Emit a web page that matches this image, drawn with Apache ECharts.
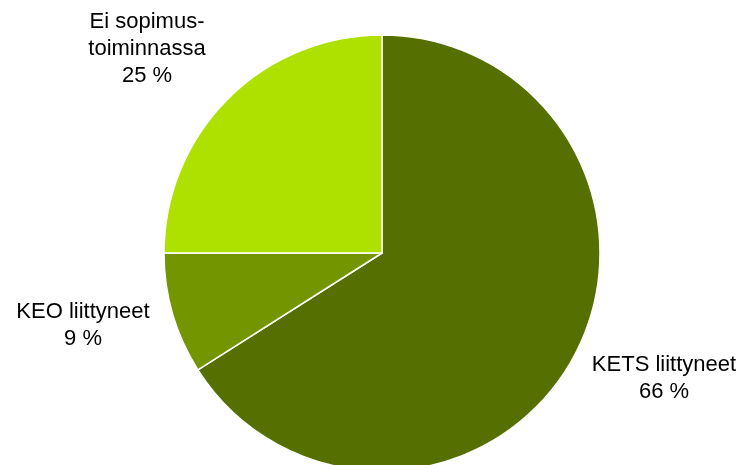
<!DOCTYPE html>
<html><head><meta charset="utf-8">
<script src="https://cdn.jsdelivr.net/npm/echarts@6/dist/echarts.min.js"></script>
<style>html,body{margin:0;padding:0;background:#fff;}#c{width:748px;height:465px;}</style>
</head><body><div id="c"></div>
<script>
var categories = ['KETS liittyneet', 'KEO liittyneet', 'Ei sopimus-\ntoiminnassa'];
var values = [66, 9, 25];
var colors = ['#557000', '#739600', '#aee000'];
var labelPos = [[664, 378], [83, 325], [147, 49]];

var chart = echarts.init(document.getElementById('c'), null, {renderer: 'canvas'});
chart.setOption({
  animation: false,
  backgroundColor: '#ffffff',
  series: [{
    type: 'pie',
    center: [382, 253],
    radius: 218,
    startAngle: 90,
    clockwise: true,
    data: categories.map(function (n, i) {
      return {name: n, value: values[i], itemStyle: {color: colors[i]}};
    }),
    itemStyle: {borderColor: '#ffffff', borderWidth: 1.5},
    label: {
      show: true,
      position: 'outside',
      formatter: function (p) { return p.name + '\n' + p.value + ' %'; },
      fontFamily: 'Liberation Sans, Arial, sans-serif',
      fontSize: 22,
      lineHeight: 27,
      color: '#000',
      align: 'center',
      overflow: 'none',
      width: 300
    },
    labelLine: {show: false},
    labelLayout: function (p) {
      var pos = labelPos[p.dataIndex];
      return {x: pos[0], y: pos[1], align: 'center', verticalAlign: 'middle'};
    },
    emphasis: {disabled: true}
  }]
});
</script></body></html>
